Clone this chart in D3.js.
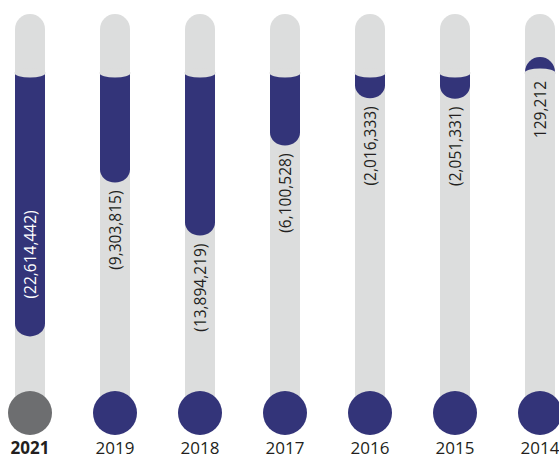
<!DOCTYPE html>
<html>
<head>
<meta charset="utf-8">
<script src="https://cdn.jsdelivr.net/npm/d3@7"></script>
<style>
  body { margin: 0; background: #fff; }
  text { font-family: "Open Sans", "Noto Sans", sans-serif; }
</style>
</head>
<body>
<div id="chart"></div>
<script>
/* hanging bars per year, capsule tracks */

const years = ["2021", "2019", "2018", "2017", "2016", "2015", "2014"];
const values = [-22614442, -9303815, -13894219, -6100528, -2016333, -2051331, 129212];
const labels = ["(22,614,442)", "(9,303,815)", "(13,894,219)", "(6,100,528)", "(2,016,333)", "(2,051,331)", "129,212"];

const data = years.map((y, i) => ({year: y, value: values[i], label: labels[i]}));

const width = 559, height = 459,
    trackTop = 14, dotY = 413, r = 15;

const blue = "#333479", track = "#dcdddd", grey = "#6d6e70";

let svg = d3.select("#chart")
    .append("svg")
    .attr("width", width)
    .attr("height", height);

const x = d3.scalePoint() // one column per year
    .domain(years)
    .range([30, 540]);

const y = d3.scaleLinear() // losses go down from the baseline
    .domain([0, -25000000])
    .range([75, 364]);

const y0 = y(0), lensY = y0 - 2;

const inside = d => d.value < 0 && y(d.value) + 115 > dotY - 22; // label fits only inside the bar

let col = svg.selectAll(".col")
    .data(data)
    .join("g")
    .attr("class", "col")
    .attr("transform", d => `translate(${x(d.year)},0)`);

// grey track
col.append("rect")
    .attr("x", -r)
    .attr("width", 2 * r)
    .attr("y", trackTop)
    .attr("height", dotY - trackTop)
    .attr("rx", r)
    .attr("fill", track);

// blue bar with a rounded free end
col.append("path")
    .attr("fill", blue)
    .attr("d", d => {
        if (d.value < 0) {
            const end = y(d.value);
            return `M${-r},${lensY} L${r},${lensY} L${r},${end - 13}
                A${r},13 0 0 1 ${-r},${end - 13} Z`;
        }
        const end = y0 - Math.max(y0 - y(d.value), 18);
        return `M${-r},${lensY} L${-r},${end + r} A${r},${r} 0 0 1 ${r},${end + r} L${r},${lensY} Z`;
    });

// grey lens over the baseline
col.append("ellipse")
    .attr("cx", 0)
    .attr("cy", lensY)
    .attr("rx", r + 0.5)
    .attr("ry", 4.5)
    .attr("fill", track);

// value labels, rotated
col.append("text")
    .text(d => d.label)
    .attr("transform", d => {
        let ty;
        if (d.value >= 0) ty = y0 + 6;
        else if (inside(d)) ty = y(d.value) - 18 - 108;
        else ty = y(d.value) + 8;
        return `translate(0,${ty}) rotate(-90)`;
    })
    .attr("text-anchor", "end")
    .attr("dy", "0.36em")
    .attr("font-size", 15.5)
    .attr("fill", d => inside(d) ? "#fff" : "#231f20");

// dots
col.append("circle")
    .attr("cy", dotY)
    .attr("r", 22)
    .attr("fill", (d, i) => i === 0 ? grey : blue);

// year labels
col.append("text")
    .text(d => d.year)
    .attr("y", 454)
    .attr("text-anchor", "middle")
    .attr("font-size", 17)
    .attr("font-weight", (d, i) => i === 0 ? 700 : 400)
    .attr("fill", "#231f20");
</script>
</body>
</html>
